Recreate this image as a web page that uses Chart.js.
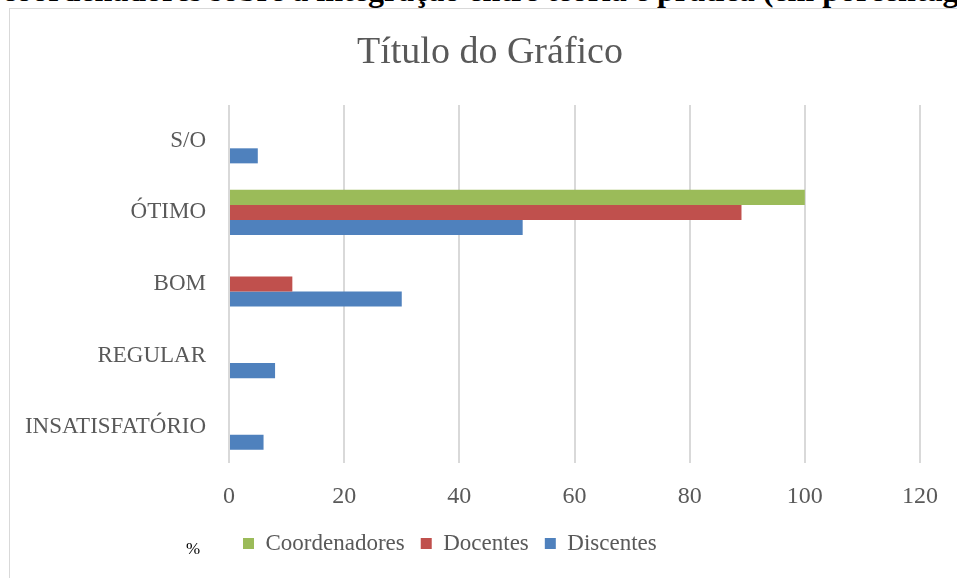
<!DOCTYPE html>
<html>
<head>
<meta charset="utf-8">
<script src="https://cdn.jsdelivr.net/npm/chart.js@4"></script>
<style>
  html, body { margin: 0; padding: 0; width: 957px; height: 578px; overflow: hidden; background: #fff; }
  #caption {
    position: absolute; left: 2px; top: -26px; white-space: nowrap;
    font: bold 32px/32px "Liberation Serif", serif; color: #000;
  }
  #box {
    position: absolute; left: 9px; top: 8px; width: 1000px; height: 600px;
    border: 1px solid #d9d9d9; box-sizing: border-box;
  }
  #chart { position: absolute; left: 10px; top: 9px; }
  #unit {
    position: absolute; left: 186px; top: 539px;
    font: 17px "Liberation Serif", serif; color: #000;
  }
</style>
</head>
<body>
<div id="caption">coordenadores sobre a integração entre teoria e prática (em porcentagem)</div>
<div id="box"></div>
<canvas id="chart" width="947" height="569"></canvas>
<div id="unit">%</div>
<script>
// Data
const categories = ['S/O', 'ÓTIMO', 'BOM', 'REGULAR', 'INSATISFATÓRIO'];
const coordenadores = [null, 100, null, null, null];
const docentes = [null, 89, 11, null, null];
const discentes = [5, 51, 30, 8, 6];
const xTicks = [0, 20, 40, 60, 80, 100, 120];

const gray = '#595959';
const serif = '"Liberation Serif", serif';

// title and legend are not centred on the plot in the original
const placeBlocks = {
    id: 'placeBlocks',
    beforeDraw(chart) {
        chart.titleBlock.left = 12;
        chart.titleBlock.right = 948;
        chart.legend.left = 217;
        chart.legend.top = 507;
    }
};

document.addEventListener('DOMContentLoaded', function() {
    const ctx = document.getElementById('chart').getContext('2d');
    new Chart(ctx, {
        type: 'bar',
        data: {
            labels: categories,
            datasets: [
                { label: 'Coordenadores', data: coordenadores, backgroundColor: '#9BBB59' },
                { label: 'Docentes', data: docentes, backgroundColor: '#C0504D' },
                { label: 'Discentes', data: discentes, backgroundColor: '#4F81BD' }
            ]
        },
        options: {
            indexAxis: 'y',
            responsive: false,
            animation: false,
            devicePixelRatio: 1,
            datasets: {
                bar: { categoryPercentage: 0.63, barPercentage: 1, borderWidth: 0 }
            },
            layout: { padding: { left: 0, right: 37, top: 8.4, bottom: 3 } },
            scales: {
                x: {
                    min: xTicks[0],
                    max: xTicks[xTicks.length - 1],
                    afterBuildTicks: function(scale) {
                        scale.ticks = xTicks.map(v => ({ value: v }));
                    },
                    afterFit: function(scale) { scale.height = 63; },
                    grid: { color: '#d9d9d9', lineWidth: 2, drawTicks: false },
                    border: { display: false },
                    ticks: { color: gray, padding: 19, font: { family: serif, size: 24 } }
                },
                y: {
                    afterFit: function(scale) { scale.width = 219; },
                    grid: { display: false, drawTicks: false },
                    border: { display: false },
                    ticks: { color: gray, padding: 23, font: { family: serif, size: 23 } }
                }
            },
            plugins: {
                title: {
                    display: true,
                    text: 'Título do Gráfico',
                    color: gray,
                    font: { family: serif, size: 38, weight: 'normal', lineHeight: 1.2 },
                    padding: { top: 13, bottom: 29 }
                },
                legend: {
                    position: 'bottom',
                    align: 'start',
                    labels: {
                        color: gray,
                        boxWidth: 11,
                        boxHeight: 11,
                        padding: 16,
                        font: { family: serif, size: 23 }
                    }
                },
                tooltip: { enabled: false }
            }
        },
        plugins: [placeBlocks]
    });
});
</script>
</body>
</html>
